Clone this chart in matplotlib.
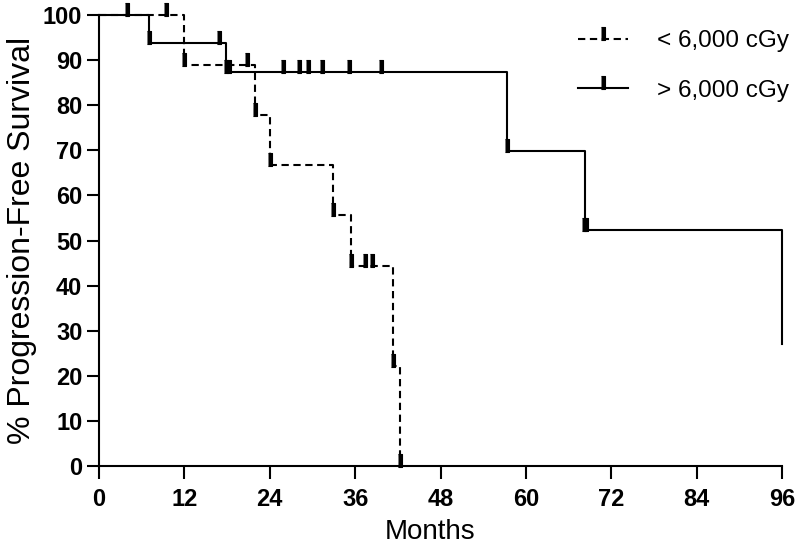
import matplotlib

matplotlib.use("Agg")
import matplotlib.pyplot as plt
from matplotlib.lines import Line2D

# < 6,000 cGy group (dashed)
low_times = [0, 12, 21.9, 24, 32.9, 35.4, 41.3, 42.3]
low_surv = [100, 88.9, 77.8, 66.7, 55.6, 44.4, 22.2, 0]
low_tick_t = [9.4, 12, 20.8, 21.9, 24, 32.9, 35.4, 37.4, 38.3, 41.3, 42.3]
low_tick_s = [100, 88.9, 88.9, 77.8, 66.7, 55.6, 44.4, 44.4, 44.4, 22.2, 0]

# > 6,000 cGy group (solid)
high_times = [0, 7.0, 17.9, 57.3, 68.3, 96]
high_surv = [100, 93.8, 87.3, 69.8, 52.3, 27.0]
high_tick_t = [3.9, 7.0, 16.9, 17.9, 18.3, 25.9, 28.1, 29.4, 31.4, 35.1, 39.6, 57.3, 68.1, 68.4]
high_tick_s = [100, 93.8, 93.8, 87.3, 87.3, 87.3, 87.3, 87.3, 87.3, 87.3, 87.3, 69.8, 52.3, 52.3]

x_ticks = list(range(0, 97, 12))
y_ticks = list(range(0, 101, 10))

TICK_MARK = [(-0.15, -0.1), (0.15, -0.1), (0.15, 1.0), (-0.15, 1.0)]
SANS = ["Liberation Sans", "DejaVu Sans"]

fig = plt.figure(figsize=(8.0, 5.47), dpi=100)
ax = fig.add_axes([0.1238, 0.148, 0.8537, 0.8245])

ax.step(low_times, low_surv, where="post", color="black", lw=1.5,
        dashes=(3.5, 2.2), clip_on=False)
ax.step(high_times, high_surv, where="post", color="black", lw=1.5,
        clip_on=False)
ax.plot(low_tick_t, low_tick_s, ls="none", marker=TICK_MARK, ms=17,
        color="black", mew=0.8, clip_on=False)
ax.plot(high_tick_t, high_tick_s, ls="none", marker=TICK_MARK, ms=17,
        color="black", mew=0.8, clip_on=False)

ax.set_xlim(0, 96)
ax.set_ylim(0, 100)
ax.set_xticks(x_ticks)
ax.set_yticks(y_ticks)
for side in ("top", "right"):
    ax.spines[side].set_visible(False)
for side in ("left", "bottom"):
    ax.spines[side].set_linewidth(1.5)
ax.tick_params(axis="x", direction="out", length=9, width=1.5, pad=6.5)
ax.tick_params(axis="y", direction="out", length=9, width=1.5, pad=3)
for lab in ax.get_xticklabels() + ax.get_yticklabels():
    lab.set_family(SANS)
    lab.set_fontweight("bold")
    lab.set_fontsize(17)

ax.set_xlabel("Months", family=SANS, fontsize=20)
ax.xaxis.set_label_coords(0.485, -0.118)
ax.set_ylabel("% Progression-Free Survival", family=SANS, fontsize=23, labelpad=4)

handles = [
    Line2D([], [], color="black", lw=1.5, dashes=(3.5, 2.2), marker=TICK_MARK,
           ms=17, mew=0.8),
    Line2D([], [], color="black", lw=1.5, marker=TICK_MARK, ms=17, mew=0.8),
]
fig.legend(handles, ["< 6,000 cGy", "> 6,000 cGy"], loc="upper left",
           bbox_to_anchor=(578 / 800, 1 - 30 / 547), frameon=False,
           handlelength=2.06, handletextpad=1.19, labelspacing=1.15,
           borderpad=0, borderaxespad=0, markerscale=1.0, numpoints=1,
           prop={"family": SANS, "size": 17.5})

fig.savefig("out.png", dpi=100)
